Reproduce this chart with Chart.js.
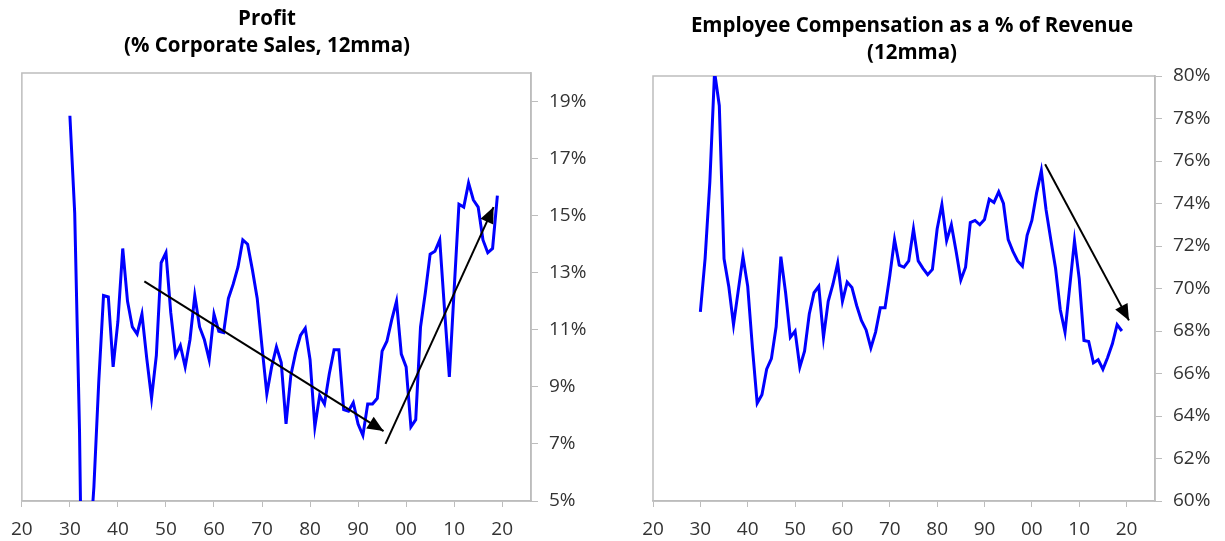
<!DOCTYPE html>
<html>
<head>
<meta charset="utf-8">
<script src="https://cdn.jsdelivr.net/npm/chart.js@4.4.1/dist/chart.umd.min.js"></script>
<style>
  body { margin: 0; background: #fff; width: 1225px; height: 541px; overflow: hidden; position: relative; font-family: 'Open Sans', sans-serif; }
  .panel { position: absolute; top: 0; height: 541px; }
  .title { position: absolute; transform: translateX(-50%); text-align: center; font-weight: 700; font-size: 20.5px; line-height: 27px; color: #000; white-space: nowrap; }
</style>
</head>
<body>
<div class="panel" style="left:0;width:600px"><canvas id="profitChart"></canvas></div>
<div class="panel" style="left:600px;width:625px"><canvas id="compChart"></canvas></div>
<div class="title" style="left:267px;top:4px">Profit<br>(% Corporate Sales, 12mma)</div>
<div class="title" style="left:912px;top:11px">Employee Compensation as a % of Revenue<br>(12mma)</div>
<script>
const years = [1930, 1931, 1932, 1933, 1934, 1935, 1936, 1937, 1938, 1939,
  1940, 1941, 1942, 1943, 1944, 1945, 1946, 1947, 1948, 1949,
  1950, 1951, 1952, 1953, 1954, 1955, 1956, 1957, 1958, 1959,
  1960, 1961, 1962, 1963, 1964, 1965, 1966, 1967, 1968, 1969,
  1970, 1971, 1972, 1973, 1974, 1975, 1976, 1977, 1978, 1979,
  1980, 1981, 1982, 1983, 1984, 1985, 1986, 1987, 1988, 1989,
  1990, 1991, 1992, 1993, 1994, 1995, 1996, 1997, 1998, 1999,
  2000, 2001, 2002, 2003, 2004, 2005, 2006, 2007, 2008, 2009,
  2010, 2011, 2012, 2013, 2014, 2015, 2016, 2017, 2018, 2019];

// profit, % of corporate sales (1933-34 fall below the 5% floor of the chart)
const profitValues = [18.5, 15.1, 7.5, -5, 3, 5.5, 9.15, 12.2, 12.15, 9.7,
  11.3, 13.85, 12.0, 11.1, 10.85, 11.55, 10.0, 8.6, 10.1, 13.35,
  13.7, 11.6, 10.1, 10.45, 9.7, 10.65, 12.2, 11.1, 10.65, 9.95,
  11.55, 10.95, 10.9, 12.1, 12.6, 13.2, 14.15, 14.0, 13.1, 12.1,
  10.4, 8.75, 9.7, 10.4, 9.85, 7.7, 9.4, 10.2, 10.8, 11.05,
  9.95, 7.6, 8.7, 8.4, 9.45, 10.3, 10.3, 8.2, 8.15, 8.45,
  7.7, 7.3, 8.4, 8.4, 8.6, 10.25, 10.6, 11.35, 12.0, 10.15,
  9.7, 7.6, 7.85, 11.1, 12.3, 13.65, 13.75, 14.15, 11.7, 9.35,
  12.4, 15.4, 15.3, 16.15, 15.55, 15.3, 14.15, 13.7, 13.85, 15.7];

// employee compensation, % of revenue
const compValues = [68.9, 71.4, 75.0, 80.2, 78.6, 71.4, 70.1, 68.3, 69.9, 71.5,
  70.1, 67.2, 64.6, 65.0, 66.2, 66.7, 68.2, 71.5, 69.8, 67.7,
  68.0, 66.3, 67.05, 68.8, 69.8, 70.1, 67.7, 69.4, 70.2, 71.2,
  69.4, 70.3, 70.05, 69.2, 68.5, 68.05, 67.2, 67.95, 69.1, 69.1,
  70.6, 72.3, 71.1, 71.0, 71.3, 72.8, 71.3, 70.95, 70.65, 70.9,
  72.8, 73.95, 72.25, 73.0, 71.75, 70.4, 71.0, 73.1, 73.2, 73.0,
  73.25, 74.2, 74.05, 74.55, 74.0, 72.3, 71.75, 71.3, 71.05, 72.5,
  73.2, 74.5, 75.55, 73.7, 72.3, 70.95, 69.0, 67.95, 70.1, 72.25,
  70.45, 67.55, 67.5, 66.5, 66.65, 66.2, 66.75, 67.4, 68.3, 68.0];

// trend arrows: [startYear, endYear] / [startValue, endValue]
const profitArrow1X = [1945.5, 1995.3];
const profitArrow1Y = [12.7, 7.45];
const profitArrow2X = [1995.7, 2018.2];
const profitArrow2Y = [7.0, 15.3];
const compArrowX = [2002.8, 2020.5];
const compArrowY = [75.85, 68.5];

const xTicks = [1920, 1930, 1940, 1950, 1960, 1970, 1980, 1990, 2000, 2010, 2020];
const profitTicks = [5, 7, 9, 11, 13, 15, 17, 19];
const compTicks = [60, 62, 64, 66, 68, 70, 72, 74, 76, 78, 80];

const toPoints = (xs, ys) => xs.map((x, i) => ({ x: x, y: ys[i] }));

const frame = {
  id: 'frame',
  beforeDatasetsDraw(chart) {
    const a = chart.chartArea, ctx = chart.ctx;
    ctx.save();
    ctx.strokeStyle = '#bdbdbd';
    ctx.lineWidth = 1.5;
    ctx.strokeRect(a.left, a.top, a.right - a.left, a.bottom - a.top);
    ctx.restore();
  }
};

const arrowHeads = {
  id: 'arrowHeads',
  afterDatasetsDraw(chart) {
    const ctx = chart.ctx;
    chart.data.datasets.forEach((ds, i) => {
      if (!ds.arrow) return;
      const pts = chart.getDatasetMeta(i).data;
      const a = pts[pts.length - 2], b = pts[pts.length - 1];
      const ang = Math.atan2(b.y - a.y, b.x - a.x);
      ctx.save();
      ctx.fillStyle = '#000';
      ctx.translate(b.x, b.y);
      ctx.rotate(ang);
      ctx.beginPath();
      ctx.moveTo(0, 0);
      ctx.lineTo(-16, -7);
      ctx.lineTo(-16, 7);
      ctx.closePath();
      ctx.fill();
      ctx.restore();
    });
  }
};

function lineSet(points) {
  return { data: points, borderColor: '#0000ff', borderWidth: 3, pointRadius: 0, tension: 0, order: 2 };
}

function arrowSet(points) {
  return { data: points, borderColor: '#000', borderWidth: 2, pointRadius: 0, tension: 0, arrow: true, order: 1 };
}

function makeOptions(yMin, yMax, yTicks, pad, yWidth) {
  const tickFont = { family: "'Open Sans', sans-serif", size: 19 };
  return {
    responsive: true,
    maintainAspectRatio: false,
    animation: false,
    layout: { padding: pad },
    plugins: { legend: { display: false }, tooltip: { enabled: false } },
    scales: {
      x: {
        type: 'linear',
        min: 1920,
        max: 2026,
        afterBuildTicks: s => { s.ticks = xTicks.map(v => ({ value: v })); },
        afterFit: s => { s.height = 40; },
        grid: { drawOnChartArea: false, drawTicks: true, tickLength: 6, color: '#bdbdbd' },
        border: { color: '#bdbdbd', width: 1.5 },
        ticks: {
          color: '#333',
          font: tickFont,
          padding: 11,
          maxRotation: 0,
          autoSkip: false,
          callback: v => String(v % 100).padStart(2, '0')
        }
      },
      y: {
        position: 'right',
        min: yMin,
        max: yMax,
        afterBuildTicks: s => { s.ticks = yTicks.map(v => ({ value: v })); },
        afterFit: s => { s.width = yWidth; },
        grid: { drawOnChartArea: false, drawTicks: true, tickLength: 7, color: '#bdbdbd' },
        border: { color: '#bdbdbd', width: 1.5 },
        ticks: {
          color: '#333',
          font: tickFont,
          padding: 11,
          autoSkip: false,
          callback: v => v + '%'
        }
      }
    }
  };
}

new Chart(document.getElementById('profitChart'), {
  type: 'line',
  data: {
    labels: years,
    datasets: [
      lineSet(toPoints(years, profitValues)),
      arrowSet(toPoints(profitArrow1X, profitArrow1Y)),
      arrowSet(toPoints(profitArrow2X, profitArrow2Y))
    ]
  },
  options: makeOptions(5, 20, profitTicks, { left: 20, top: 73, right: 0, bottom: 0 }, 69),
  plugins: [frame, arrowHeads]
});

new Chart(document.getElementById('compChart'), {
  type: 'line',
  data: {
    labels: years,
    datasets: [
      lineSet(toPoints(years, compValues)),
      arrowSet(toPoints(compArrowX, compArrowY))
    ]
  },
  options: makeOptions(60, 80, compTicks, { left: 53, top: 76, right: 0, bottom: 0 }, 70),
  plugins: [frame, arrowHeads]
});
</script>
</body>
</html>
